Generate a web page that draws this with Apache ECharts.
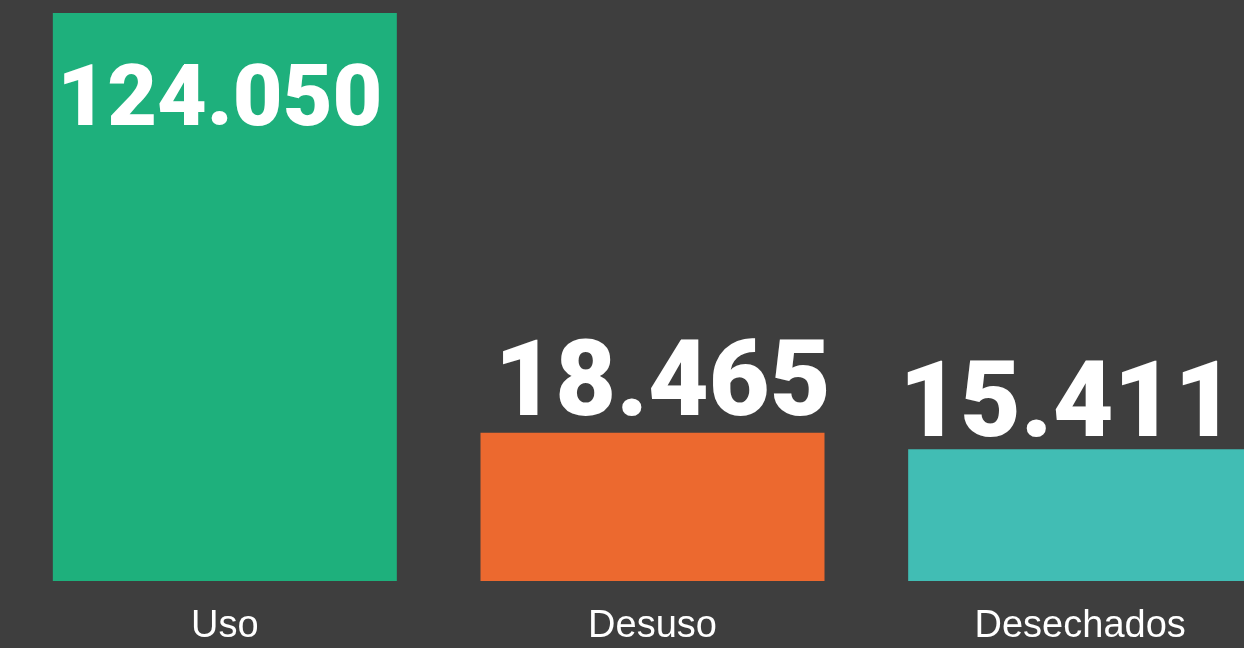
<!DOCTYPE html>
<html>
<head>
<meta charset="utf-8">
<script src="https://cdn.jsdelivr.net/npm/echarts@6/dist/echarts.min.js"></script>
<style>
  html, body { margin: 0; padding: 0; background: #3e3e3e; }
  #chart { width: 1244px; height: 648px; }
</style>
</head>
<body>
<div id="chart"></div>
<script>
// categories and the figures printed on the bars
const categories = ['Uso', 'Desuso', 'Desechados']
const counts = [124050, 18465, 15411]
// bar lengths as drawn, in % of the tallest bar (the infographic is not to scale)
const barHeights = [100, 26.1, 23.2]
const colors = ['#1eb07c', '#ec692f', '#41bdb4']

const valueFont = 'Roboto, "Liberation Sans", Arial, sans-serif'

function fmt(n) {
  return String(n).replace(/\B(?=(\d{3})+(?!\d))/g, '.')
}

const chart = echarts.init(document.getElementById('chart'))

chart.setOption({
  backgroundColor: '#3e3e3e',
  animation: false,
  grid: { left: 11, top: 13, width: 1283, bottom: 67, outerBoundsMode: 'none', containLabel: false },
  xAxis: {
    type: 'category',
    data: categories,
    axisLine: { show: false },
    axisTick: { show: false },
    axisLabel: {
      color: '#ffffff',
      fontSize: 38,
      fontFamily: '"Liberation Sans", Arial, sans-serif',
      margin: 27,
    },
  },
  yAxis: {
    type: 'value',
    min: 0,
    max: 100,
    show: false,
    splitLine: { show: false },
  },
  series: [
    {
      type: 'bar',
      barWidth: 344,
      data: barHeights.map((v, i) => ({
        value: v,
        itemStyle: { color: colors[i] },
        label: [
          { position: 'insideTop', distance: 47, fontSize: 86, lineHeight: 86, offset: [-5, 0] },
          { position: 'top', distance: -8, fontSize: 105, lineHeight: 105, offset: [10, 0] },
          { position: 'top', distance: -13, fontSize: 105, lineHeight: 105, offset: [-13, 0] },
        ][i],
      })),
      label: {
        show: true,
        color: '#ffffff',
        fontWeight: 900,
        fontFamily: valueFont,
        formatter: (p) => fmt(counts[p.dataIndex]),
      },
    },
  ],
})
</script>
</body>
</html>
